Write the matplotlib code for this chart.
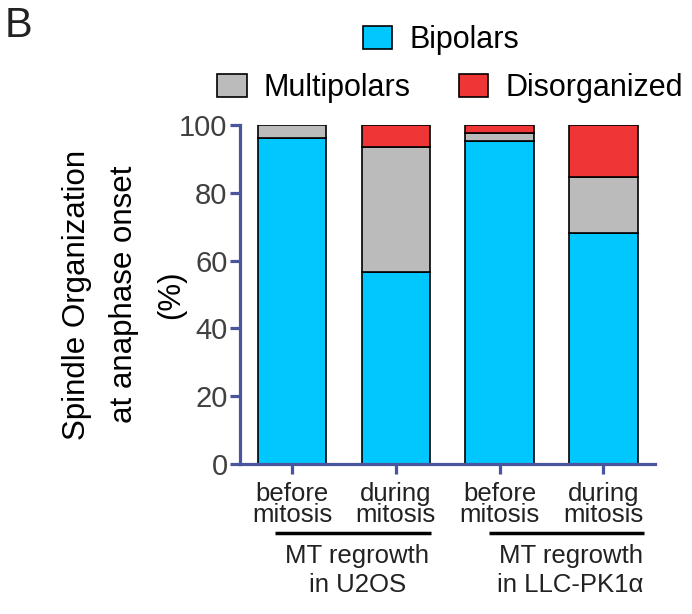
import numpy as np
import matplotlib.pyplot as plt
from matplotlib.patches import Patch

plt.rcParams['font.family'] = ['Liberation Sans', 'DejaVu Sans']

conditions = ['before\nmitosis', 'during\nmitosis', 'before\nmitosis', 'during\nmitosis']
bipolars = [96.3, 56.6, 95.4, 68.3]
multipolars = [3.7, 37.0, 2.3, 16.4]
disorganized = [0.0, 6.4, 2.3, 15.3]
groups = ['MT regrowth\nin U2OS', 'MT regrowth\nin LLC-PK1\u03b1']
group_spans = [(-0.16, 1.335), (1.9, 3.39)]

c_bi = '#00C8FF'
c_multi = '#BBBBBB'
c_dis = '#EF3535'
axis_col = '#4B559E'
tick_col = '#404040'

fig = plt.figure(figsize=(6.92, 6.14), dpi=100)
ax = fig.add_axes([0.347, 0.2443, 0.6, 0.552])

x = np.arange(len(conditions))
w = 0.66
bi = np.array(bipolars)
mu = np.array(multipolars)
di = np.array(disorganized)
ax.bar(x, bi, w, color=c_bi, edgecolor='black', linewidth=1.2, zorder=2)
ax.bar(x, mu, w, bottom=bi, color=c_multi, edgecolor='black', linewidth=1.2, zorder=2)
mask = di > 0
ax.bar(x[mask], di[mask], w, bottom=(bi + mu)[mask], color=c_dis,
       edgecolor='black', linewidth=1.2, zorder=2)

ax.set_xlim(-0.5, 3.5)
ax.set_ylim(0, 100)
ax.set_yticks([0, 20, 40, 60, 80, 100])
ax.set_xticks(x)
ax.set_xticklabels(conditions, fontsize=18.5, linespacing=0.85)

for s in ['top', 'right']:
    ax.spines[s].set_visible(False)
for s in ['left', 'bottom']:
    ax.spines[s].set_color(axis_col)
    ax.spines[s].set_linewidth(2.3)
ax.tick_params(axis='y', colors=axis_col, labelcolor=tick_col, labelsize=21,
               length=7, width=2.3, pad=2)
ax.tick_params(axis='x', colors=axis_col, labelcolor='#222222', length=7,
               width=2.3, pad=6)

ax.set_ylabel('Spindle Organization\nat anaphase onset\n(%)', fontsize=22.5,
              linespacing=1.75)
ax.yaxis.set_label_coords(-0.13, 0.5)

tr = ax.get_xaxis_transform()
for (a, b), g in zip(group_spans, groups):
    ax.plot([a, b], [-0.2035, -0.2035], color='black', lw=2.5,
            transform=tr, clip_on=False, solid_capstyle='butt')
    ax.text((a + b) / 2 + 0.04, -0.235, g, transform=tr, ha='center', va='top',
            fontsize=18.5, linespacing=1.3, color='#222222')

kw = dict(frameon=False, fontsize=22, handlelength=0.95, handleheight=0.82,
          handletextpad=0.55, borderpad=0, borderaxespad=0)
h_bi = Patch(facecolor=c_bi, edgecolor='black', linewidth=1.2, label='Bipolars')
h_mu = Patch(facecolor=c_multi, edgecolor='black', linewidth=1.2, label='Multipolars')
h_di = Patch(facecolor=c_dis, edgecolor='black', linewidth=1.2, label='Disorganized')
l1 = fig.legend(handles=[h_bi], loc='center', bbox_to_anchor=(441 / 692, 1 - 40 / 614), **kw)
l2 = fig.legend(handles=[h_mu, h_di], loc='center', ncol=2, columnspacing=1.6,
                bbox_to_anchor=(450 / 692, 1 - 88 / 614), **kw)

fig.text(0.007, 0.99, 'B', fontsize=30, va='top', ha='left', color='#222222')

plt.savefig('out.png', dpi=100)
